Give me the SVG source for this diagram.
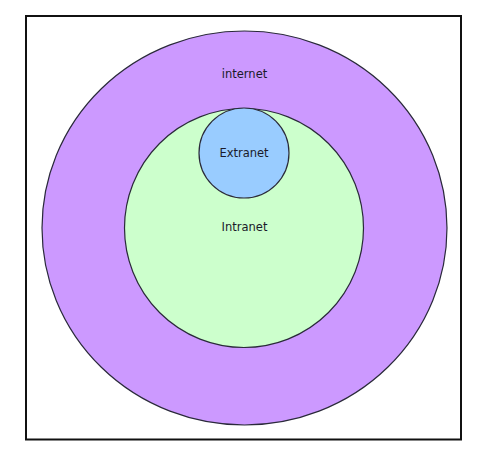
<svg xmlns="http://www.w3.org/2000/svg" width="485" height="463" viewBox="0 0 485 463">
<style>
.lbl{font-family:"DejaVu Sans",Verdana,sans-serif;font-size:11.5px;fill:#1a1a2a;text-anchor:middle}
.ring{stroke:#2a2a3a;stroke-width:1.2}
</style>
<rect x="0" y="0" width="485" height="463" fill="#ffffff"/>
<rect x="26" y="16" width="435" height="423.5" fill="#ffffff" stroke="#111" stroke-width="2"/>
<g id="internet">
<ellipse class="ring" cx="244.5" cy="228" rx="202.5" ry="197" fill="#cc99ff"/>
<text class="lbl" x="244.5" y="77.5">internet</text>
</g>
<g id="intranet">
<circle class="ring" cx="244" cy="228" r="119.5" fill="#ccffcc"/>
<text class="lbl" x="244.5" y="231">Intranet</text>
</g>
<g id="extranet">
<circle class="ring" cx="244" cy="153" r="45" fill="#99ccff"/>
<text class="lbl" x="244" y="157">Extranet</text>
</g>
<g id="connectors"/>
</svg>
